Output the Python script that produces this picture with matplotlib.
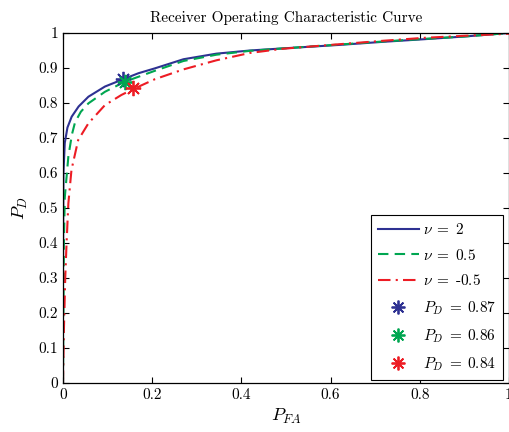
import matplotlib
matplotlib.use("Agg")
import matplotlib.pyplot as plt

plt.rcParams['font.family'] = ['cmr10', 'DejaVu Serif']
plt.rcParams['mathtext.fontset'] = 'cm'
plt.rcParams['axes.formatter.use_mathtext'] = True

# ---- data ----
pfa_nu2 = [0, 0, 0.001, 0.004, 0.01, 0.0195, 0.035, 0.057, 0.094, 0.135, 0.169, 0.206,
           0.27, 0.344, 0.419, 0.493, 0.62, 0.72, 0.807, 0.9, 1.0]
pd_nu2 = [0, 0.3, 0.6, 0.686, 0.73, 0.761, 0.79, 0.818, 0.847, 0.868, 0.885, 0.899,
          0.925, 0.941, 0.95, 0.956, 0.966, 0.975, 0.982, 0.99, 1.0]

pfa_nu05 = [0, 0.001, 0.002, 0.004, 0.012, 0.02, 0.027, 0.04, 0.057, 0.094, 0.139, 0.206,
            0.27, 0.344, 0.419, 0.493, 0.62, 0.72, 0.807, 0.9, 1.0]
pd_nu05 = [0, 0.2, 0.4, 0.53, 0.647, 0.71, 0.745, 0.775, 0.799, 0.832, 0.861, 0.892,
           0.92, 0.938, 0.949, 0.956, 0.967, 0.976, 0.983, 0.99, 1.0]

pfa_num05 = [0, 0.002, 0.005, 0.008, 0.012, 0.019, 0.034, 0.057, 0.094, 0.131, 0.158, 0.206,
             0.27, 0.344, 0.419, 0.493, 0.62, 0.72, 0.807, 0.9, 1.0]
pd_num05 = [0, 0.15, 0.3, 0.40, 0.513, 0.609, 0.694, 0.742, 0.794, 0.823, 0.84, 0.868,
            0.896, 0.922, 0.943, 0.955, 0.968, 0.978, 0.986, 0.992, 0.998]

marker_pfa = [0.135, 0.139, 0.157]
marker_pd = [0.87, 0.86, 0.843]
marker_labels = ['0.87', '0.86', '0.84']

x_ticks = [0, 0.2, 0.4, 0.6, 0.8, 1.0]
x_tick_labels = ['0', '0.2', '0.4', '0.6', '0.8', '1']
y_ticks = [0, 0.1, 0.2, 0.3, 0.4, 0.5, 0.6, 0.7, 0.8, 0.9, 1.0]
y_tick_labels = ['0', '0.1', '0.2', '0.3', '0.4', '0.5', '0.6', '0.7', '0.8', '0.9', '1']

blue = '#2E3192'
green = '#00A651'
red = '#ED1C24'
colors = [blue, green, red]

fig = plt.figure(figsize=(5.09, 4.32), dpi=100)
ax = fig.add_axes([63/509, 49/432, 446/509, 350/432])

l1, = ax.plot(pfa_nu2, pd_nu2, color=blue, lw=1.5, ls='-', label=r'$\nu\;=\;2$')
l2, = ax.plot(pfa_nu05, pd_nu05, color=green, lw=1.5, ls=(0, (5, 3)), label=r'$\nu\;=\;0.5$')
l3, = ax.plot(pfa_num05, pd_num05, color=red, lw=1.5, ls=(0, (6, 2.5, 1, 2.5)),
              label=r'$\nu\;=\;$-0.5')

mhandles = []
for xm, ym, c, lab in zip(marker_pfa, marker_pd, colors, marker_labels):
    h, = ax.plot([xm], [ym], ls='none', marker=(8, 2, 0), ms=11, mew=1.3,
                 color=c, label=r'$P_D\;=\;%s$' % lab)
    mhandles.append(h)

ax.set_xlim(0, 1)
ax.set_ylim(0, 1)
ax.set_xticks(x_ticks)
ax.set_xticklabels(x_tick_labels)
ax.set_yticks(y_ticks)
ax.set_yticklabels(y_tick_labels)
ax.tick_params(direction='in', top=True, right=True, length=4, labelsize=11, width=0.8)
for s in ax.spines.values():
    s.set_linewidth(0.9)

ax.set_title('Receiver Operating Characteristic Curve', fontsize=11, pad=8)
ax.set_xlabel(r'$P_{FA}$', fontsize=13, labelpad=4)
ax.set_ylabel(r'$P_D$', fontsize=13, labelpad=6)

leg = ax.legend(handles=[l1, l2, l3] + mhandles, loc='lower right',
                bbox_to_anchor=(0.9865, 0.0086), borderaxespad=0,
                fontsize=11, frameon=True,
                fancybox=False, edgecolor='black', framealpha=1,
                handlelength=2.7, labelspacing=0.7, borderpad=0.45,
                handletextpad=0.25, markerscale=0.9)
leg.get_frame().set_linewidth(0.8)

fig.savefig('out.png', dpi=100)
